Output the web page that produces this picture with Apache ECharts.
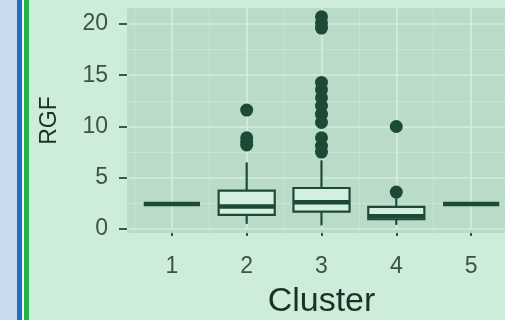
<!DOCTYPE html>
<html>
<head>
<meta charset="utf-8">
<script src="https://cdn.jsdelivr.net/npm/echarts@6/dist/echarts.min.js"></script>
<style>
html,body{margin:0;padding:0;background:#cdecda;}
#chart{width:505px;height:320px;}
</style>
</head>
<body>
<div id="chart"></div>
<script>
// ---- data ----
var categories = ['1', '2', '3', '4', '5'];
var boxMin    = [2.44, 0.50, 0.35, 0.40, 2.44];
var boxQ1     = [2.44, 1.37, 1.70, 0.95, 2.44];
var boxMedian = [2.44, 2.20, 2.60, 1.25, 2.44];
var boxQ3     = [2.44, 3.75, 4.00, 2.15, 2.44];
var boxMax    = [2.44, 6.50, 6.70, 3.00, 2.44];
var outliers2 = [8.2, 8.5, 8.9, 11.6];
var outliers3 = [7.5, 8.1, 8.9, 10.4, 11.2, 12.0, 12.8, 13.6, 14.3, 19.6, 20.1, 20.7];
var outliers4 = [3.6, 10.0];
var yTicks = [0, 5, 10, 15, 20];
var yMinorTicks = [2.5, 7.5, 12.5, 17.5];
var xMinorTicks = [0.5, 1.5, 2.5, 3.5, 4.5, 5.5];

// ---- build ----
var xTicks = categories.map(function (c, i) { return i + 1; });
var boxData = categories.map(function (c, i) {
  return [i + 1, boxMin[i], boxQ1[i], boxMedian[i], boxQ3[i], boxMax[i]];
});
var outlierData = [];
outliers2.forEach(function (v) { outlierData.push([2, v]); });
outliers3.forEach(function (v) { outlierData.push([3, v]); });
outliers4.forEach(function (v) { outlierData.push([4, v]); });

var dark = '#1d4a37';
var boxFill = '#d3efdf';
var gridMajor = '#d2eedf';
var gridMinor = '#c5e6d3';

var markLines = [];
yTicks.forEach(function (v) { markLines.push({ yAxis: v, lineStyle: { color: gridMajor, width: 1.6, type: 'solid' } }); });
yMinorTicks.forEach(function (v) { markLines.push({ yAxis: v, lineStyle: { color: gridMinor, width: 0.9, type: 'solid' } }); });
xTicks.forEach(function (v) { markLines.push({ xAxis: v, lineStyle: { color: gridMajor, width: 1.6, type: 'solid' } }); });
xMinorTicks.forEach(function (v) { markLines.push({ xAxis: v, lineStyle: { color: gridMinor, width: 0.9, type: 'solid' } }); });

var chart = echarts.init(document.getElementById('chart'), null, { renderer: 'canvas' });
chart.setOption({
  backgroundColor: '#cdecda',
  animation: false,
  graphic: [
    { type: 'rect', shape: { x: 0, y: 0, width: 17, height: 320 }, style: { fill: '#c7dbec' }, z: 100 },
    { type: 'rect', shape: { x: 17, y: 0, width: 5, height: 320 }, style: { fill: '#1e6ec3' }, z: 100 },
    { type: 'rect', shape: { x: 22, y: 0, width: 2, height: 320 }, style: { fill: '#eef6f2' }, z: 100 },
    { type: 'rect', shape: { x: 24, y: 0, width: 5, height: 320 }, style: { fill: '#22b14c' }, z: 100 }
  ],
  grid: {
    left: 127, top: 8, width: 389, height: 225,
    outerBoundsMode: 'none', containLabel: false,
    show: true, backgroundColor: '#b9dbc7', borderWidth: 0
  },
  xAxis: {
    type: 'value', min: 0.4, max: 5.6,
    offset: 4,
    name: 'Cluster', nameLocation: 'middle', nameGap: 48,
    nameTextStyle: { fontFamily: 'Liberation Sans', fontSize: 34, color: '#1b3127' },
    axisLine: { show: false },
    axisTick: { show: true, customValues: xTicks, length: 7, lineStyle: { color: '#3b5a48', width: 2 } },
    axisLabel: { customValues: xTicks, margin: 18, fontFamily: 'Liberation Sans', fontSize: 23, color: '#3b5446',
      formatter: function (v) { return categories[Math.round(v) - 1] || ''; } },
    splitLine: { show: false }
  },
  yAxis: {
    type: 'value', min: -0.39, max: 21.56,
    name: 'RGF', nameLocation: 'middle', nameGap: 66, nameRotate: 90,
    nameTextStyle: { fontFamily: 'Liberation Sans', fontSize: 23, color: '#1b3127' },
    axisLine: { show: false },
    axisTick: { show: true, customValues: yTicks, length: 8, lineStyle: { color: '#3b5a48', width: 2 } },
    axisLabel: { customValues: yTicks, margin: 19, fontFamily: 'Liberation Sans', fontSize: 23, color: '#3b5446' },
    splitLine: { show: false }
  },
  series: [
    {
      type: 'line', data: [], z: 1, silent: true,
      markLine: { z: 1, silent: true, symbol: ['none', 'none'], label: { show: false }, animation: false, data: markLines }
    },
    {
      type: 'custom', z: 3,
      data: boxData,
      renderItem: function (params, api) {
        var x = api.value(0);
        var pMin = api.coord([x, api.value(1)]);
        var pQ1 = api.coord([x, api.value(2)]);
        var pMed = api.coord([x, api.value(3)]);
        var pQ3 = api.coord([x, api.value(4)]);
        var pMax = api.coord([x, api.value(5)]);
        var hw = api.size([0.75, 0])[0] / 2;
        var cx = pMed[0];
        return {
          type: 'group',
          children: [
            { type: 'line', z2: 1, shape: { x1: cx, y1: pQ3[1], x2: cx, y2: pMax[1] }, style: { stroke: dark, lineWidth: 2.2, fill: null } },
            { type: 'line', z2: 1, shape: { x1: cx, y1: pQ1[1], x2: cx, y2: pMin[1] }, style: { stroke: dark, lineWidth: 2.2, fill: null } },
            { type: 'rect', z2: 2, shape: { x: cx - hw, y: pQ3[1], width: hw * 2, height: pQ1[1] - pQ3[1] }, style: { fill: boxFill, stroke: dark, lineWidth: 2.2 } },
            { type: 'line', z2: 3, shape: { x1: cx - hw, y1: pMed[1], x2: cx + hw, y2: pMed[1] }, style: { stroke: dark, lineWidth: 4.5, fill: null } }
          ]
        };
      }
    },
    {
      type: 'scatter', z: 4,
      data: outlierData,
      symbol: 'circle', symbolSize: 13,
      itemStyle: { color: dark, opacity: 1 }
    }
  ]
});
</script>
</body>
</html>
